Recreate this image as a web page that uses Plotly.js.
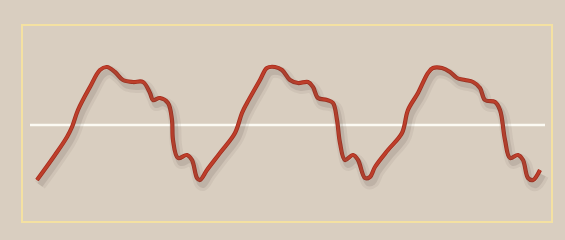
<!DOCTYPE html>
<html><head><meta charset="utf-8">
<script src="https://cdn.plot.ly/plotly-3.0.1.min.js"></script>
<style>html,body{margin:0;padding:0;background:#d9cec0;}#chart{width:565px;height:240px;}</style>
</head><body><div id="chart"></div>
<script>
// time positions and signal values
const t = [15,33,45,50,56,68,78,85,93,101,111,121,128,131,138,146,150,151,156,165,170,175,178,185,198,213,220,225,238,245,253,260,268,276,286,291,296,305,311,315,318,323,331,336,343,348,353,366,380,386,396,406,411,420,428,435,443,451,458,463,473,478,483,488,496,501,506,511,518];
const signal = [-55,-30,-12,-2,15,38,55,58,53,45,43,43,32,25,27,22,5,-15,-33,-30,-35,-53,-55,-45,-28,-8,12,22,45,57,58,55,45,42,43,38,27,25,22,5,-18,-35,-30,-35,-53,-52,-42,-25,-8,15,32,52,57,57,53,47,45,43,37,25,23,15,-15,-33,-30,-35,-53,-55,-45];
const baseline = [0, 0];
const baselineT = [8, 523];

const red = 'rgb(198,62,42)';
const traces = [
  {x:t, y:signal, xaxis:'x2', yaxis:'y2', mode:'lines', line:{color:'rgba(90,80,70,0.08)', width:12, shape:'spline', smoothing:1}, hoverinfo:'skip'},
  {x:t, y:signal, xaxis:'x2', yaxis:'y2', mode:'lines', line:{color:'rgba(90,80,70,0.14)', width:6, shape:'spline', smoothing:1}, hoverinfo:'skip'},
  {x:baselineT, y:baseline, mode:'lines', line:{color:'rgba(255,255,248,0.9)', width:2.5}, hoverinfo:'skip'},
  {x:t, y:signal, mode:'lines', line:{color:'rgb(165,45,30)', width:4.2, shape:'spline', smoothing:1}, hoverinfo:'skip'},
  {x:t, y:signal, mode:'lines', line:{color:red, width:2.6, shape:'spline', smoothing:1}, hoverinfo:'skip'}
];
const W=565,H=240;
const offX=3, offY=5;
const mL=22, mR=W-552-offX, mT=25, mB=H-222-offY;
const pw=W-mL-mR, ph=H-mT-mB;
const fx=(pw-offX)/pw, fy=offY/ph;
const ax = {range:[0,530], showgrid:false, zeroline:false, showticklabels:false, ticks:'', showline:false, fixedrange:true};
const ay = {range:[-97,100], showgrid:false, zeroline:false, showticklabels:false, ticks:'', showline:false, fixedrange:true};
const layout = {
  width:W, height:H, showlegend:false,
  paper_bgcolor:'#d9cec0', plot_bgcolor:'rgba(0,0,0,0)',
  margin:{l:mL, r:mR, t:mT, b:mB, pad:0},
  xaxis:Object.assign({domain:[0,fx]}, ax),
  yaxis:Object.assign({domain:[fy,1]}, ay),
  xaxis2:Object.assign({domain:[1-fx,1], anchor:'y2'}, ax),
  yaxis2:Object.assign({domain:[0,1-fy], anchor:'x2'}, ay),
  shapes:[{type:'rect', xref:'x domain', yref:'y domain', x0:0, x1:1, y0:0, y1:1, line:{color:'rgba(246,226,160,0.95)', width:2}, fillcolor:'rgba(0,0,0,0)', layer:'below'}]
};
Plotly.newPlot('chart', traces, layout, {displayModeBar:false, staticPlot:true});
</script></body></html>
